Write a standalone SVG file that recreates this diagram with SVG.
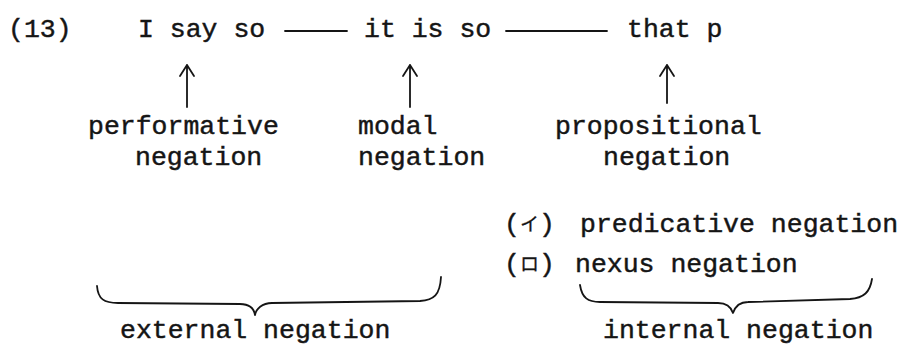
<svg xmlns="http://www.w3.org/2000/svg" width="907" height="348" viewBox="0 0 907 348">
  <style>
    .t { font-family: "Liberation Mono", "Courier New", monospace; font-size: 26.5px; fill: #151515; stroke: #151515; stroke-width: 0.45; }
    .k { font-family: "Noto Sans CJK JP", sans-serif; font-size: 19px; stroke-width: 0.3; }
    .ln { stroke: #151515; stroke-width: 1.8; fill: none; stroke-linecap: round; stroke-linejoin: round; }
  </style>
  <rect width="907" height="348" fill="#ffffff"/>
  <g id="label-13"><text class="t" x="8" y="37">(13)</text></g>
  <g id="node-i-say-so"><text class="t" x="138" y="37">I say so</text></g>
  <g id="node-it-is-so"><text class="t" x="364" y="37">it is so</text></g>
  <g id="node-that-p"><text class="t" x="627" y="37">that p</text></g>
  <g id="node-performative"><text class="t" x="88" y="134">performative</text><text class="t" x="135" y="165">negation</text></g>
  <g id="node-modal"><text class="t" x="358" y="134">modal</text><text class="t" x="358" y="165">negation</text></g>
  <g id="node-propositional"><text class="t" x="555" y="134">propositional</text><text class="t" x="603" y="165">negation</text></g>
  <g id="node-predicative">
    <text class="t" x="504" y="232">(<tspan class="k" dy="-1">イ</tspan><tspan dy="1">)</tspan></text>
    <text class="t" x="580" y="232">predicative negation</text>
  </g>
  <g id="node-nexus">
    <text class="t" x="504" y="272">(<tspan class="k" dy="-1">ロ</tspan><tspan dy="1">)</tspan></text>
    <text class="t" x="575" y="272">nexus negation</text>
  </g>
  <g id="node-external"><text class="t" x="120" y="338">external negation</text></g>
  <g id="node-internal"><text class="t" x="603" y="338">internal negation</text></g>
  <g id="connectors">
    <path class="ln" d="M285,31 L347,31"/>
    <path class="ln" d="M506,31 L607,31"/>
    <path class="ln" d="M187,107 L187,65 M180,76 L187,65 L194,76"/>
    <path class="ln" d="M410,107 L410,65 M403,76 L410,65 L417,76"/>
    <path class="ln" d="M667,103 L667,65 M660,76 L667,65 L674,76"/>
    <path class="ln" d="M97,286 C98,299 104,303 118,303 L240,304 C250,304 254,309 255,315 C256,309 262,303 272,303 L420,301 C434,300 440,295 441,277"/>
    <path class="ln" d="M580,285 C582,298 588,302 600,302 L718,303 C727,303 731,307 733,313 C735,307 739,302 748,302 L850,299 C864,298 870,292 872,279"/>
  </g>
</svg>
